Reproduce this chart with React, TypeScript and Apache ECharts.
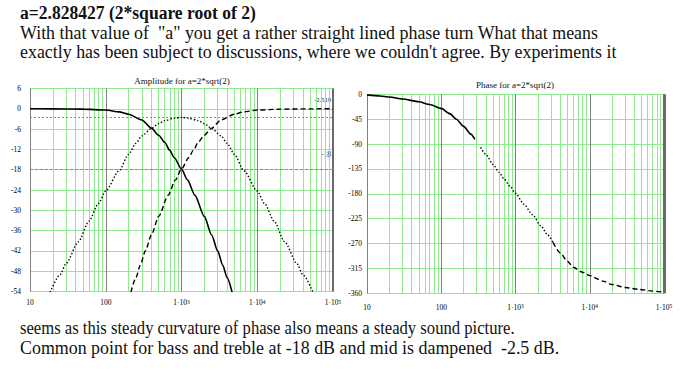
import React, { useEffect, useRef } from "react";
import * as echarts from "echarts";

// ---- Amplitude data (frequency in Hz, level in dB) ----
const lowpassFreq = [10, 20, 50, 100, 150, 200, 300, 400, 500, 600, 700, 800, 1000, 1200, 1500, 2000, 2500, 3000, 3500, 4000, 4650];
const lowpassDb = [0, -0.01, -0.1, -0.36, -0.9, -1.6, -3.3, -5.7, -7.8, -9.9, -12.3, -14.4, -17.8, -21.0, -25.5, -31.8, -37.3, -42.0, -46.2, -49.9, -54.2];

const highpassFreq = [215, 250, 286, 333, 400, 500, 667, 833, 1000, 1250, 1429, 1667, 2000, 2500, 3333, 5000, 6667, 10000, 20000, 50000, 100000];
const highpassDb = [-54.2, -49.9, -46.2, -42.0, -37.3, -31.8, -25.5, -21.0, -17.8, -14.4, -12.3, -9.9, -7.8, -5.7, -3.3, -1.6, -0.9, -0.36, -0.1, -0.01, 0];

const bandpassFreq = [18.4, 25, 30, 43.5, 60, 80, 100, 150, 200, 250, 300, 400, 500, 600, 800, 1000, 1250, 1667, 2000, 2500, 3333, 4000, 5000, 6667, 10000, 12500, 16667, 23000, 33333, 40000, 54350];
const bandpassDb = [-54.2, -49, -45.7, -39.3, -33.2, -28, -24.3, -18.3, -13.5, -10.2, -8.0, -5.8, -4.4, -3.5, -2.8, -2.52, -2.8, -3.5, -4.4, -5.8, -8.0, -10.2, -13.5, -18.3, -24.3, -28, -33.2, -39.3, -45.7, -49, -54.2];

const midDampLevel = -2.519;
const commonPointLevel = -18;

// ---- Phase data (frequency in Hz, degrees) ----
const phaseLowFreq = [10, 15, 20, 30, 50, 70, 100, 130, 160, 200, 250, 284];
const phaseLowDeg = [-1, -3, -5, -8.5, -13.5, -18.5, -25.5, -35, -45, -58, -72, -81.5];

const phaseMidFreq = [339, 400, 500, 600, 700, 850, 1000, 1300, 1700, 2200, 2700, 3200];
const phaseMidDeg = [-96, -109, -127, -141, -153, -167, -179, -199, -218, -238, -254, -268];

const phaseHighFreq = [3200, 4000, 5000, 6000, 8000, 10000, 15000, 20000, 30000, 47000, 70000, 100000];
const phaseHighDeg = [-268, -287, -302, -313, -322, -328, -338, -344, -349.5, -353, -356, -358];

// ---- Grid / tick labels ----
const minorGridFreqs = [
  20, 30, 40, 50, 60, 70, 80, 90,
  200, 300, 400, 500, 600, 700, 800, 900,
  2000, 3000, 4000, 5000, 6000, 7000, 8000, 9000,
  20000, 30000, 40000, 50000, 60000, 70000, 80000, 90000,
];
const xTickExponents = [1, 2, 3, 4, 5];
const xTickTexts = ["10", "100", "1·10{s|3}", "1·10{s|4}", "1·10{s|5}"];

const heading = "a=2.828427 (2*square root of 2)";
const paragraphTop = [
  "With that value of  \"a\" you get a rather straight lined phase turn What that means",
  "exactly has been subject to discussions, where we couldn't agree. By experiments it",
];
const paragraphBottom = [
  "seems as this steady curvature of phase also means a steady sound picture.",
  "Common point for bass and treble at -18 dB and mid is dampened  -2.5 dB.",
];

const GREEN = "#8fe98f";
const GREY = "#808080";
const SERIF = "Liberation Serif";

const zip = (xs: number[], ys: number[]) => xs.map((x, i) => [x, ys[i]]);

function xLabel(v: number) {
  const e = Math.round(Math.log10(v));
  const i = xTickExponents.indexOf(e);
  return i >= 0 ? xTickTexts[i] : "";
}

export default function App() {
  const ref = useRef<HTMLDivElement>(null);
  useEffect(() => {
    document.body.style.margin = "0";
    const chart = echarts.init(ref.current!, null, { renderer: "svg", width: 693, height: 374 });

    const xAxisCommon = (gridIndex: number, margin: number) => ({
      type: "log" as const,
      logBase: 10,
      min: 10,
      max: 100000,
      gridIndex,
      axisLine: { show: false },
      axisTick: { show: false },
      splitLine: { show: true, lineStyle: { color: GREY, width: 1 } },
      axisLabel: {
        formatter: xLabel,
        margin,
        color: "#000",
        fontFamily: SERIF,
        fontSize: 7.5,
        rich: {
          s: { fontSize: 5.5, fontFamily: SERIF, color: "#000", verticalAlign: "top", lineHeight: 8 },
        },
      },
    });

    const yAxisCommon = (gridIndex: number, min: number, max: number, interval: number, margin: number) => ({
      type: "value" as const,
      gridIndex,
      min,
      max,
      interval,
      axisLine: { show: false },
      axisTick: { show: false },
      splitLine: { show: true, lineStyle: { color: GREEN, width: 1 } },
      axisLabel: { margin, color: "#000", fontFamily: SERIF, fontSize: 7.5 },
    });

    const gridLines = (xi: number, extra: any[], edgeWidth: number) => ({
      type: "line",
      xAxisIndex: xi,
      yAxisIndex: xi,
      data: [],
      silent: true,
      z: 1,
      markLine: {
        silent: true,
        z: 1,
        animation: false,
        symbol: ["none", "none"],
        label: { show: false },
        lineStyle: { color: GREEN, type: "solid", width: 1 },
        data: [
          ...minorGridFreqs.map((f) => ({ xAxis: f })),
          { xAxis: 100000, lineStyle: { color: "#6a6a6a", type: "solid", width: edgeWidth } },
          ...extra,
        ],
      },
    });

    const curve = (xi: number, xs: number[], ys: number[], type: any, width: number) => ({
      type: "line",
      xAxisIndex: xi,
      yAxisIndex: xi,
      data: zip(xs, ys),
      showSymbol: false,
      symbol: "none",
      smooth: 0.25,
      smoothMonotone: "x",
      z: 3,
      lineStyle: { color: "#000", width, type },
    });

    const text = (t: string, x: number, y: number, size: number, opts: any = {}) => ({
      type: "text",
      x,
      y,
      scaleX: opts.scaleX ?? 1,
      style: {
        text: t,
        fontFamily: SERIF,
        fontSize: size,
        fontWeight: opts.bold ? "bold" : "normal",
        fill: "#111",
        align: opts.align ?? "left",
        verticalAlign: "middle",
      },
    });

    const option: any = {
      animation: false,
      backgroundColor: "#ffffff",
      grid: [
        { left: 30, top: 88.5, width: 303, height: 203 },
        { left: 367, top: 94.3, width: 297, height: 199 },
      ],
      xAxis: [xAxisCommon(0, 7), xAxisCommon(1, 10)],
      yAxis: [yAxisCommon(0, -54, 6, 6, 9), yAxisCommon(1, -360, 0, 45, 5)],
      series: [
        gridLines(
          0,
          [
            { yAxis: midDampLevel, lineStyle: { color: "#dd6a6a", type: [2, 2], width: 1 } },
            { yAxis: commonPointLevel, lineStyle: { color: "#9c9c10", type: [3, 2], width: 1 } },
          ],
          2
        ),
        gridLines(1, [], 3),
        curve(0, lowpassFreq, lowpassDb, "solid", 1.6),
        curve(0, bandpassFreq, bandpassDb, [1.4, 2], 1.4),
        curve(0, highpassFreq, highpassDb, [5, 3], 1.4),
        curve(1, phaseLowFreq, phaseLowDeg, "solid", 1.6),
        curve(1, phaseMidFreq, phaseMidDeg, [1.4, 2], 1.4),
        curve(1, phaseHighFreq, phaseHighDeg, [5, 3], 1.4),
      ],
      graphic: [
        text(heading, 20, 13, 17.9, { bold: true, scaleX: 0.98 }),
        text(paragraphTop[0], 20, 32.5, 17.9),
        text(paragraphTop[1], 20, 52, 17.9),
        text(paragraphBottom[0], 20, 328, 17.9, { scaleX: 0.93 }),
        text(paragraphBottom[1], 20, 348, 17.9),
        text("Amplitude for a=2*sqrt(2)", 182, 81, 9, { align: "center" }),
        text("Phase for a=2*sqrt(2)", 515, 84.5, 9, { align: "center" }),
        text("-2.519", 331, 99, 6.5, { align: "right" }),
        text("-18", 331, 154, 7.5, { align: "right" }),
      ],
    };
    chart.setOption(option);
    return () => chart.dispose();
  }, []);
  return <div ref={ref} style={{ width: 693, height: 374, background: "#fff" }} />;
}
